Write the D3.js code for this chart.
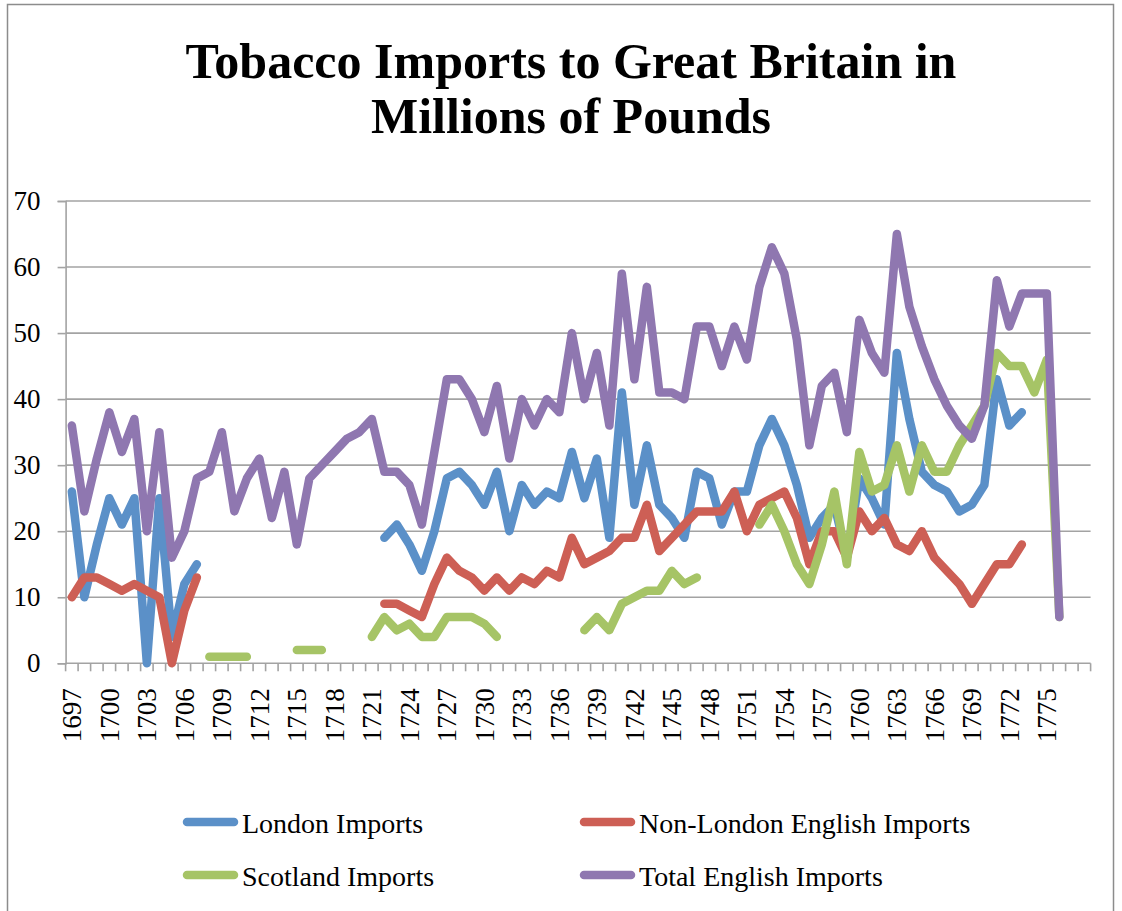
<!DOCTYPE html>
<html>
<head>
<meta charset="utf-8">
<script src="https://cdn.jsdelivr.net/npm/d3@7"></script>
<style>
  html, body { margin: 0; padding: 0; background: #fff; }
  svg { display: block; }
</style>
</head>
<body>
<svg id="chart" width="1122" height="911"></svg>
<script>
// ---------- data ----------
const years = d3.range(1697, 1779);           // category axis 1697..1778
const tickYears = d3.range(1697, 1776, 3);    // labelled every 3 years, 1697..1775
const yTicks = [0, 10, 20, 30, 40, 50, 60, 70];

const seriesNames = ["London Imports", "Non-London English Imports", "Scotland Imports", "Total English Imports"];
const seriesColors = ["#5b90c8", "#cd5f55", "#a6c466", "#8f77b0"];

// values by year (missing = no data)
const londonImports = {
  1697: 26, 1698: 10, 1699: 18, 1700: 25, 1701: 21, 1702: 25, 1703: 0, 1704: 25, 1705: 4, 1706: 12, 1707: 15,
  1722: 19, 1723: 21, 1724: 18, 1725: 14, 1726: 20, 1727: 28, 1728: 29, 1729: 27, 1730: 24, 1731: 29,
  1732: 20, 1733: 27, 1734: 24, 1735: 26, 1736: 25, 1737: 32, 1738: 25, 1739: 31, 1740: 19, 1741: 41,
  1742: 24, 1743: 33, 1744: 24, 1745: 22, 1746: 19, 1747: 29, 1748: 28, 1749: 21, 1750: 26, 1751: 26,
  1752: 33, 1753: 37, 1754: 33, 1755: 27, 1756: 19, 1757: 22, 1758: 24, 1759: 16, 1760: 28, 1761: 25,
  1762: 21, 1763: 47, 1764: 37, 1765: 29, 1766: 27, 1767: 26, 1768: 23, 1769: 24, 1770: 27, 1771: 43,
  1772: 36, 1773: 38
};
const nonLondonImports = {
  1697: 10, 1698: 13, 1699: 13, 1700: 12, 1701: 11, 1702: 12, 1703: 11, 1704: 10, 1705: 0, 1706: 8, 1707: 13,
  1722: 9, 1723: 9, 1724: 8, 1725: 7, 1726: 12, 1727: 16, 1728: 14, 1729: 13, 1730: 11, 1731: 13,
  1732: 11, 1733: 13, 1734: 12, 1735: 14, 1736: 13, 1737: 19, 1738: 15, 1739: 16, 1740: 17, 1741: 19,
  1742: 19, 1743: 24, 1744: 17, 1745: 19, 1746: 21, 1747: 23, 1748: 23, 1749: 23, 1750: 26, 1751: 20,
  1752: 24, 1753: 25, 1754: 26, 1755: 22, 1756: 15, 1757: 20, 1758: 20, 1759: 16, 1760: 23, 1761: 20,
  1762: 22, 1763: 18, 1764: 17, 1765: 20, 1766: 16, 1767: 14, 1768: 12, 1769: 9, 1770: 12, 1771: 15,
  1772: 15, 1773: 18
};
const scotlandImports = {
  1708: 1, 1709: 1, 1710: 1, 1711: 1,
  1715: 2, 1716: 2, 1717: 2,
  1721: 4, 1722: 7, 1723: 5, 1724: 6, 1725: 4, 1726: 4, 1727: 7, 1728: 7, 1729: 7, 1730: 6, 1731: 4,
  1738: 5, 1739: 7, 1740: 5, 1741: 9, 1742: 10, 1743: 11, 1744: 11, 1745: 14, 1746: 12, 1747: 13,
  1752: 21, 1753: 24, 1754: 20, 1755: 15, 1756: 12, 1757: 18, 1758: 26, 1759: 15, 1760: 32, 1761: 26,
  1762: 27, 1763: 33, 1764: 26, 1765: 33, 1766: 29, 1767: 29, 1768: 33, 1769: 36, 1770: 39, 1771: 47,
  1772: 45, 1773: 45, 1774: 41, 1775: 46, 1776: 7
};
const totalEnglishImports = {
  1697: 36, 1698: 23, 1699: 31, 1700: 38, 1701: 32, 1702: 37, 1703: 20, 1704: 35, 1705: 16, 1706: 20,
  1707: 28, 1708: 29, 1709: 35, 1710: 23, 1711: 28, 1712: 31, 1713: 22, 1714: 29, 1715: 18, 1716: 28,
  1717: 30, 1718: 32, 1719: 34, 1720: 35, 1721: 37, 1722: 29, 1723: 29, 1724: 27, 1725: 21, 1726: 32,
  1727: 43, 1728: 43, 1729: 40, 1730: 35, 1731: 42, 1732: 31, 1733: 40, 1734: 36, 1735: 40, 1736: 38,
  1737: 50, 1738: 40, 1739: 47, 1740: 36, 1741: 59, 1742: 43, 1743: 57, 1744: 41, 1745: 41, 1746: 40,
  1747: 51, 1748: 51, 1749: 45, 1750: 51, 1751: 46, 1752: 57, 1753: 63, 1754: 59, 1755: 49, 1756: 33,
  1757: 42, 1758: 44, 1759: 35, 1760: 52, 1761: 47, 1762: 44, 1763: 65, 1764: 54, 1765: 48, 1766: 43,
  1767: 39, 1768: 36, 1769: 34, 1770: 39, 1771: 58, 1772: 51, 1773: 56, 1774: 56, 1775: 56, 1776: 7
};
const seriesValues = [londonImports, nonLondonImports, scotlandImports, totalEnglishImports];

// ---------- layout ----------
const svg = d3.select("#chart");
const FONT = "'Liberation Serif', 'Times New Roman', serif";
const plot = { left: 65.6, right: 1090.6, top: 201, bottom: 663.3 };

// chart frame
svg.append("rect")
  .attr("x", 7.5).attr("y", 4.5).attr("width", 1106).attr("height", 930)
  .attr("fill", "none").attr("stroke", "#8c8c8c").attr("stroke-width", 1.5);

// title
const title = svg.append("text")
  .attr("text-anchor", "middle")
  .attr("font-family", FONT).attr("font-weight", "bold").attr("font-size", 50)
  .attr("fill", "#000");
title.append("tspan").attr("x", 571).attr("y", 78).text("Tobacco Imports to Great Britain in");
title.append("tspan").attr("x", 571).attr("y", 133).text("Millions of Pounds");

const x = d3.scaleBand().domain(years).range([plot.left, plot.right]).padding(0);
const y = d3.scaleLinear().domain([0, 70]).range([plot.bottom, plot.top]);
const cx = d => x(d) + x.bandwidth() / 2;

// gridlines
svg.append("g")
  .selectAll("line").data(yTicks.filter(t => t > 0)).join("line")
  .attr("x1", plot.left).attr("x2", plot.right)
  .attr("y1", d => y(d)).attr("y2", d => y(d))
  .attr("stroke", "#a3a3a3").attr("stroke-width", 1.6);

// y axis
const yAxis = svg.append("g").attr("transform", `translate(${plot.left},0)`)
  .call(d3.axisLeft(y).tickValues(yTicks).tickSize(8).tickPadding(17).tickFormat(d3.format("d")));
yAxis.select(".domain").attr("stroke", "#a3a3a3").attr("stroke-width", 1.6);
yAxis.selectAll(".tick line").attr("stroke", "#a3a3a3").attr("stroke-width", 1.6);
yAxis.selectAll("text").attr("font-family", FONT).attr("font-size", 27).attr("fill", "#000");

// x axis (ticks at category boundaries)
const xg = svg.append("g");
xg.append("line")
  .attr("x1", plot.left).attr("x2", plot.right)
  .attr("y1", plot.bottom).attr("y2", plot.bottom)
  .attr("stroke", "#a3a3a3").attr("stroke-width", 1.6);
xg.selectAll("line.tk").data(years.concat([null])).join("line").attr("class", "tk")
  .attr("x1", (d, i) => plot.left + i * x.bandwidth())
  .attr("x2", (d, i) => plot.left + i * x.bandwidth())
  .attr("y1", plot.bottom).attr("y2", plot.bottom + 8)
  .attr("stroke", "#a3a3a3").attr("stroke-width", 1.6);
xg.selectAll("text").data(tickYears).join("text")
  .attr("transform", d => `translate(${cx(d)},${plot.bottom + 25}) rotate(-90)`)
  .attr("text-anchor", "end").attr("dy", "0.34em")
  .attr("font-family", FONT).attr("font-size", 27).attr("fill", "#000")
  .text(d => d);

// lines
const line = d3.line()
  .defined(d => d.v !== null && d.v !== undefined)
  .x(d => cx(d.year)).y(d => y(d.v));

seriesValues.forEach((vals, i) => {
  const pts = years.map(yr => ({ year: yr, v: vals[yr] === undefined ? null : vals[yr] }));
  svg.append("path")
    .datum(pts)
    .attr("d", line)
    .attr("fill", "none")
    .attr("stroke", seriesColors[i])
    .attr("stroke-width", 8.5)
    .attr("stroke-linejoin", "round")
    .attr("stroke-linecap", "round");
});

// legend
const legendPos = [[187, 822], [584, 822], [187, 875], [584, 875]];
seriesNames.forEach((name, i) => {
  const [lx, ly] = legendPos[i];
  svg.append("line")
    .attr("x1", lx).attr("x2", lx + 47).attr("y1", ly).attr("y2", ly)
    .attr("stroke", seriesColors[i]).attr("stroke-width", 8.5).attr("stroke-linecap", "round");
  svg.append("text")
    .attr("x", lx + 55).attr("y", ly + 11)
    .attr("font-family", FONT).attr("font-size", 28).attr("fill", "#000")
    .text(name);
});
</script>
</body>
</html>
